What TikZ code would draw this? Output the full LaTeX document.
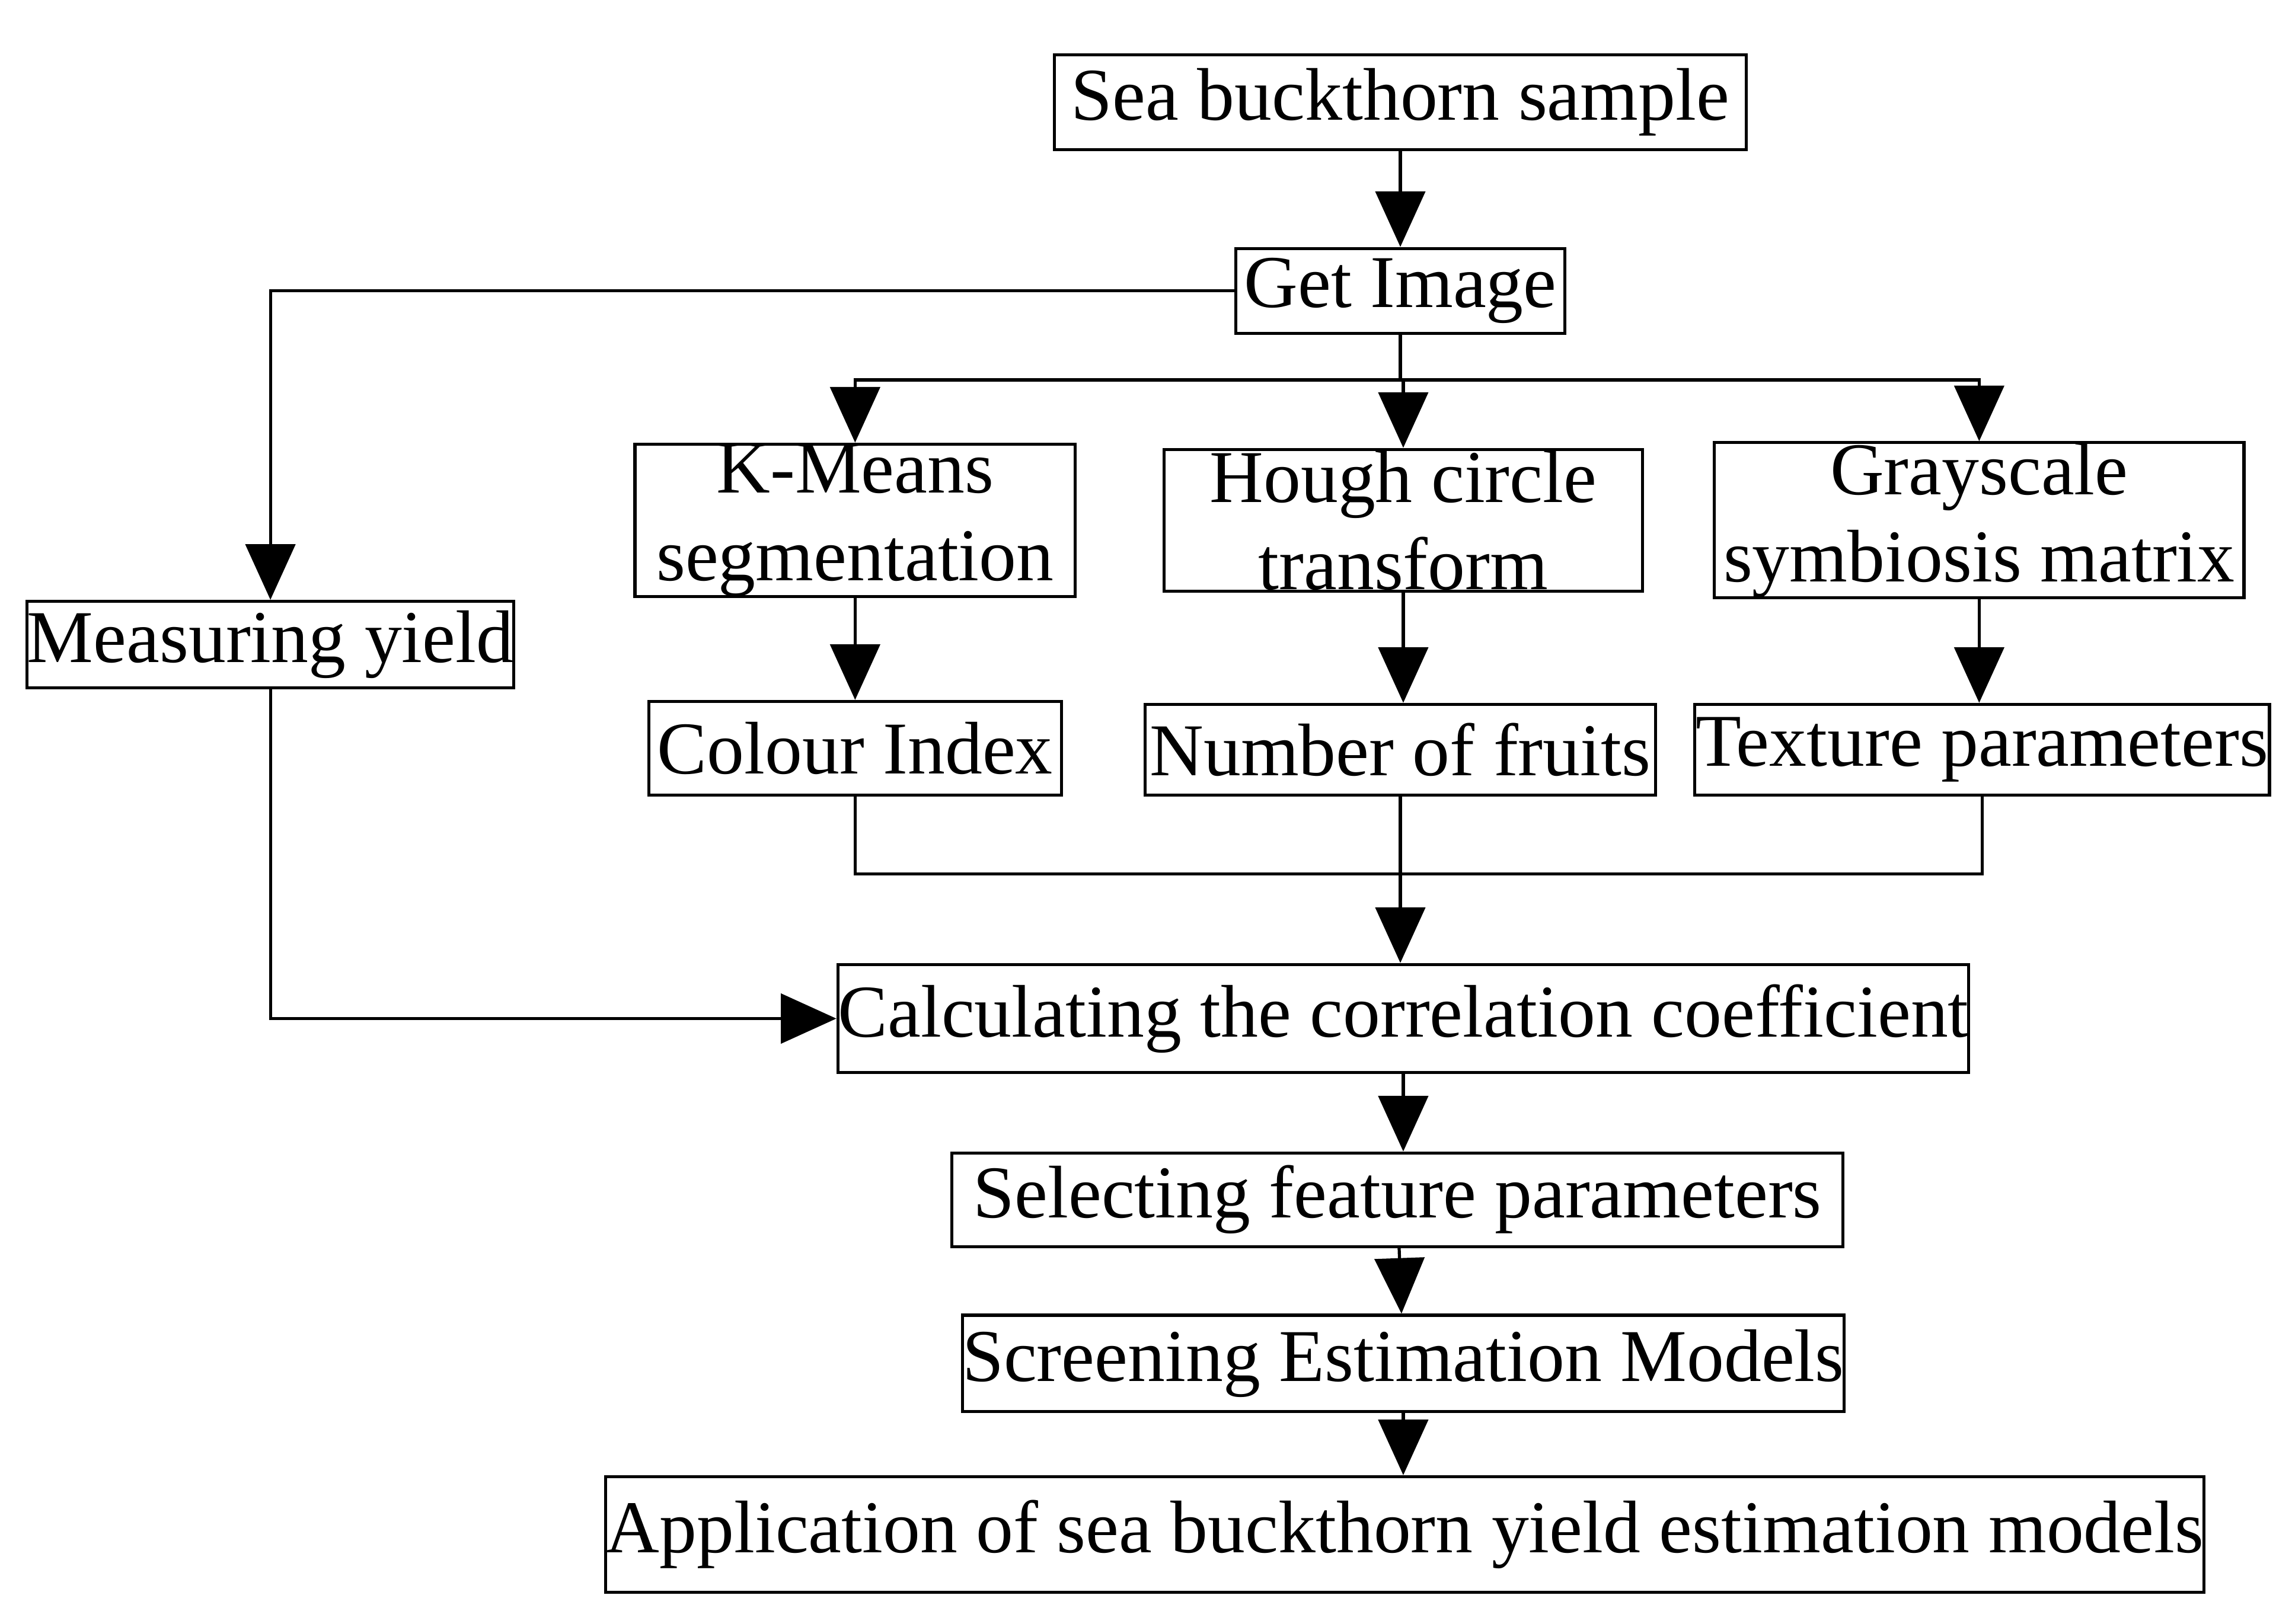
\documentclass[tikz,border=0pt]{standalone}
\usepackage{fontspec}
\setmainfont{Liberation Serif}
\usetikzlibrary{arrows.meta}
\begin{document}
\begin{tikzpicture}[x=0.01cm,y=-0.01cm,
  box/.style={draw,line width=0.6pt,inner sep=0pt,align=center,font=\fontsize{14.5}{17}\selectfont},
  ar/.style={line width=0.6pt,-{Triangle[length=0.38cm,width=0.34cm]}},
  ln/.style={line width=0.6pt}]
\useasboundingbox (0,0) rectangle (1568,1111);
\node[box,minimum width=4.73cm,minimum height=0.65cm] (s) at (958,70) {Sea buckthorn sample};
\node[box,minimum width=2.25cm,minimum height=0.58cm] (g) at (958,199) {Get Image};
\node[box,minimum width=3.01cm,minimum height=0.97cm] (k) at (585,356) {K-Means\\segmentation};
\node[box,minimum width=3.27cm,minimum height=0.97cm] (h) at (960,356) {Hough circle\\transform};
\node[box,minimum width=3.62cm,minimum height=0.97cm] (gr) at (1354,356) {Grayscale\\symbiosis matrix};
\node[box,minimum width=3.32cm,minimum height=0.59cm] (m) at (185,441) {Measuring yield};
\node[box,minimum width=2.82cm,minimum height=0.64cm] (c) at (585,512) {Colour Index};
\node[box,minimum width=3.49cm,minimum height=0.62cm] (n) at (958,513) {Number of fruits};
\node[box,minimum width=3.93cm,minimum height=0.62cm] (t) at (1356,513) {Texture parameters};
\node[box,minimum width=7.51cm,minimum height=0.74cm] (cc) at (960,697) {Calculating the correlation coefficient};
\node[box,minimum width=6.09cm,minimum height=0.64cm] (sf) at (956,821) {Selecting feature parameters};
\node[box,minimum width=5.83cm,minimum height=0.66cm] (se) at (960,933) {Screening Estimation Models};
\node[box,minimum width=10.34cm,minimum height=0.79cm] (ap) at (961,1050) {Application of sea buckthorn yield estimation models};
\coordinate (b1) at (958,260);
\coordinate (j1) at (958,598);
\draw[ar] (s) -- (g);
\draw[ar] (g.west) -| (m.north);
\draw[ln] (g.south) -- (b1);
\draw[ar] (b1) -| (k.north);
\draw[ar] (b1) -- (b1 -| h.north) -- (h.north);
\draw[ar] (b1) -| (gr.north);
\draw[ar] (k) -- (c);
\draw[ar] (h) -- (h |- n.north);
\draw[ar] (gr) -- (gr |- t.north);
\draw[ln] (c.south) |- (j1);
\draw[ln] (t.south) |- (j1);
\draw[ln] (n.south) -- (j1);
\draw[ar] (j1) -- (j1 |- cc.north);
\draw[ar] (m.south) |- (cc.west);
\draw[ar] (cc) -- (cc |- sf.north);
\draw[ar] (sf) -- (se);
\draw[ar] (se) -- (se |- ap.north);
\end{tikzpicture}
\end{document}
